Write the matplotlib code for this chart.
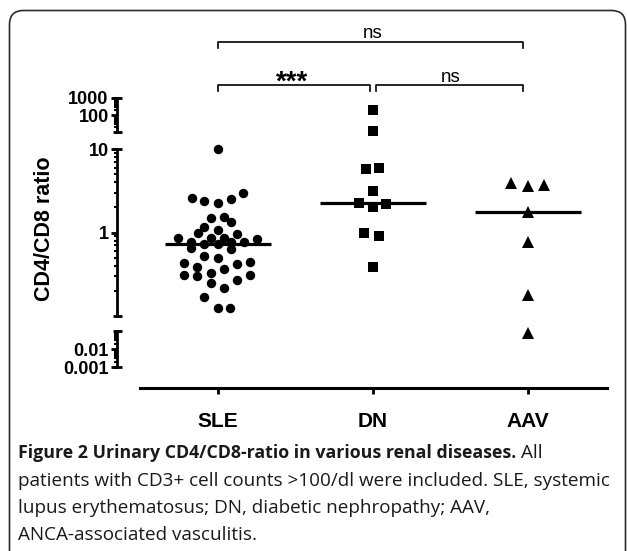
import numpy as np
import matplotlib
matplotlib.use('Agg')
import matplotlib.pyplot as plt
from matplotlib import transforms
from matplotlib.patches import FancyBboxPatch
from matplotlib.ticker import FixedLocator, FixedFormatter, LogLocator, NullFormatter

# data
groups = ['SLE', 'DN', 'AAV']

sle_ratio = [10.0, 2.61, 2.40, 2.27, 2.54, 2.99, 1.51, 1.55, 1.32, 1.15, 1.00,
             1.06, 0.87, 0.87, 0.97, 0.85, 0.76, 0.72, 0.72, 0.76, 0.76, 0.83,
             0.645, 0.63, 0.53, 0.50, 0.43, 0.39, 0.33, 0.37, 0.42, 0.44, 0.31,
             0.30, 0.25, 0.27, 0.31, 0.215, 0.17, 0.125, 0.125]
sle_jitter = [0.0, -0.17, -0.09, 0.0, 0.084, 0.16, -0.045, 0.039, 0.084, -0.09,
              -0.129, 0.0, -0.045, 0.039, 0.123, -0.258, -0.174, -0.09, 0.0,
              0.084, 0.168, 0.252, -0.174, 0.084, -0.09, 0.0, -0.219, -0.135,
              -0.045, 0.039, 0.123, 0.206, -0.219, -0.135, -0.045, 0.123, 0.206,
              0.039, -0.09, 0.0, 0.077]

dn_ratio = [197, 11, 5.78, 5.94, 3.16, 2.27, 2.04, 2.21, 1.0, 0.90, 0.39]
dn_jitter = [0.0, 0.0, -0.045, 0.039, 0.0, -0.09, 0.0, 0.084, -0.058, 0.039, 0.0]

aav_ratio = [3.94, 3.63, 3.73, 1.78, 0.76, 0.178, 0.077]
aav_jitter = [-0.11, 0.0, 0.103, 0.0, 0.0, 0.0, 0.0]

# (low, high, labelled ticks) of the three y-axis segments
segments = [(10, 1000, [1000, 100], ['1000', '100']),
            (0.1, 10, [10, 1], ['10', '1']),
            (0.001, 0.1, [0.01, 0.001], ['0.01', '0.001'])]
seg_pixels = [(98, 132), (149, 316), (331, 367)]

comparisons = [(0, 1.968, 42, 'ns', 1.0, 38, False),
               (0, 0.98, 85, '***', 0.477, 90, True),
               (1.02, 1.968, 85, 'ns', 1.5, 82, False)]

W, H = 627, 551
fig = plt.figure(figsize=(W / 100, H / 100), dpi=100)
fig.patch.set_facecolor('white')

AX_L, AX_R = 117, 607
XMIN, XMAX = (AX_L - 218) / 155, (AX_R - 218) / 155
ARIAL = 'Liberation Sans'

axes = []
for (lo, hi, ticks, labels), (top, bot) in zip(segments, seg_pixels):
    ax = fig.add_axes([AX_L / W, 1 - bot / H, (AX_R - AX_L) / W, (bot - top) / H])
    ax.set_yscale('log')
    ax.set_ylim(lo, hi)
    ax.set_xlim(XMIN, XMAX)
    ax.patch.set_visible(False)
    for s in ['top', 'right', 'bottom']:
        ax.spines[s].set_visible(False)
    ax.spines['left'].set_linewidth(2)
    ax.yaxis.set_major_locator(FixedLocator(ticks))
    ax.yaxis.set_major_formatter(FixedFormatter(labels))
    ax.yaxis.set_minor_locator(LogLocator(base=10, subs=np.arange(2, 10)))
    ax.yaxis.set_minor_formatter(NullFormatter())
    ax.tick_params(axis='y', which='major', direction='out', length=4.5, width=2,
                   pad=1.5, labelsize=13)
    ax.tick_params(axis='y', which='minor', direction='out', length=2.5, width=1.5)
    for lab in ax.get_yticklabels():
        lab.set_fontfamily(ARIAL)
        lab.set_fontweight('bold')
    ax.set_xticks([])
    # small caps at the segment ends
    d = 4.5 / 155
    for v in (lo, hi):
        ax.plot([XMIN - d, XMIN + d], [v, v], color='black', lw=2,
                solid_capstyle='butt', clip_on=False)
    axes.append(ax)


def seg_axes(v):
    # top segment only above 10, middle 0.1..10, bottom below 0.1
    if v > 10:
        return axes[0]
    if v >= 0.1:
        return axes[1]
    return axes[2]


markers = [('o', 6.8), ('s', 7.2), ('^', 8.0)]
for i, (vals, jit) in enumerate([(sle_ratio, sle_jitter), (dn_ratio, dn_jitter),
                                  (aav_ratio, aav_jitter)]):
    m, ms = markers[i]
    for v, j in zip(vals, jit):
        seg_axes(v).plot(i + j, v, marker=m, ms=ms, color='black', mec='black',
                         mew=0, linestyle='none', clip_on=False, zorder=3)
    med = np.median(vals)
    seg_axes(med).plot([i - 0.34, i + 0.34], [med, med], color='black', lw=2.3,
                       solid_capstyle='butt', clip_on=False, zorder=4)

# x axis on the lowest segment, pushed down
axb = axes[-1]
axb.spines['bottom'].set_visible(True)
axb.spines['bottom'].set_position(('outward', 21 * 0.72))
axb.spines['bottom'].set_bounds((140 - 218) / 155, XMAX)
axb.spines['bottom'].set_linewidth(2.2)
axb.set_xticks(range(len(groups)))
axb.set_xticklabels(groups, fontsize=15, fontweight='bold', family=ARIAL)
axb.tick_params(axis='x', length=4, width=2, pad=13)

fig.text(44 / W, 1 - 229 / H, 'CD4/CD8 ratio', rotation=90, ha='center',
         va='center', fontsize=15.5, fontweight='bold', family=ARIAL)

# significance brackets
bt = transforms.blended_transform_factory(axes[1].transData, fig.transFigure)
for x1, x2, ypx, txt, tx, typx, bold in comparisons:
    y = 1 - ypx / H
    yd = 1 - (ypx + 6) / H
    fig.add_artist(plt.Line2D([x1, x1, x2, x2], [yd, y, y, yd], transform=bt,
                              color='black', lw=1.2))
    fig.text(tx, 1 - typx / H, txt, transform=bt, ha='center', va='baseline',
             fontsize=20 if bold else 13.5, fontweight='bold' if bold else 'normal',
             family=ARIAL)

# caption
CAP = 'Open Sans'
cap_col = '#1a1a1a'
renderer = fig.canvas.get_renderer()
t1 = fig.text(18 / W, 1 - 458 / H, 'Figure 2 Urinary CD4/CD8-ratio in various renal diseases.',
              fontsize=12.8, fontweight='bold', family=CAP, color=cap_col, va='baseline')
x1 = t1.get_window_extent(renderer).x1
fig.text((x1 + 5) / W, 1 - 458 / H, 'All', fontsize=13.6, family=CAP, color=cap_col,
         va='baseline')
rest = ['patients with CD3+ cell counts >100/dl were included. SLE, systemic',
        'lupus erythematosus; DN, diabetic nephropathy; AAV,',
        'ANCA-associated vasculitis.']
for k, line in enumerate(rest):
    fig.text(18 / W, 1 - (485.5 + 27.5 * k) / H, line, fontsize=13.6, family=CAP,
             color=cap_col, va='baseline')

# rounded frame around the figure
frame = FancyBboxPatch((9.5, -30), 616, 570.5, boxstyle='round,pad=0,rounding_size=14',
                       transform=transforms.IdentityTransform(), fill=False,
                       edgecolor='#2b2b2b', lw=1.2)
fig.patches.append(frame)

fig.savefig('out.png', dpi=100)
